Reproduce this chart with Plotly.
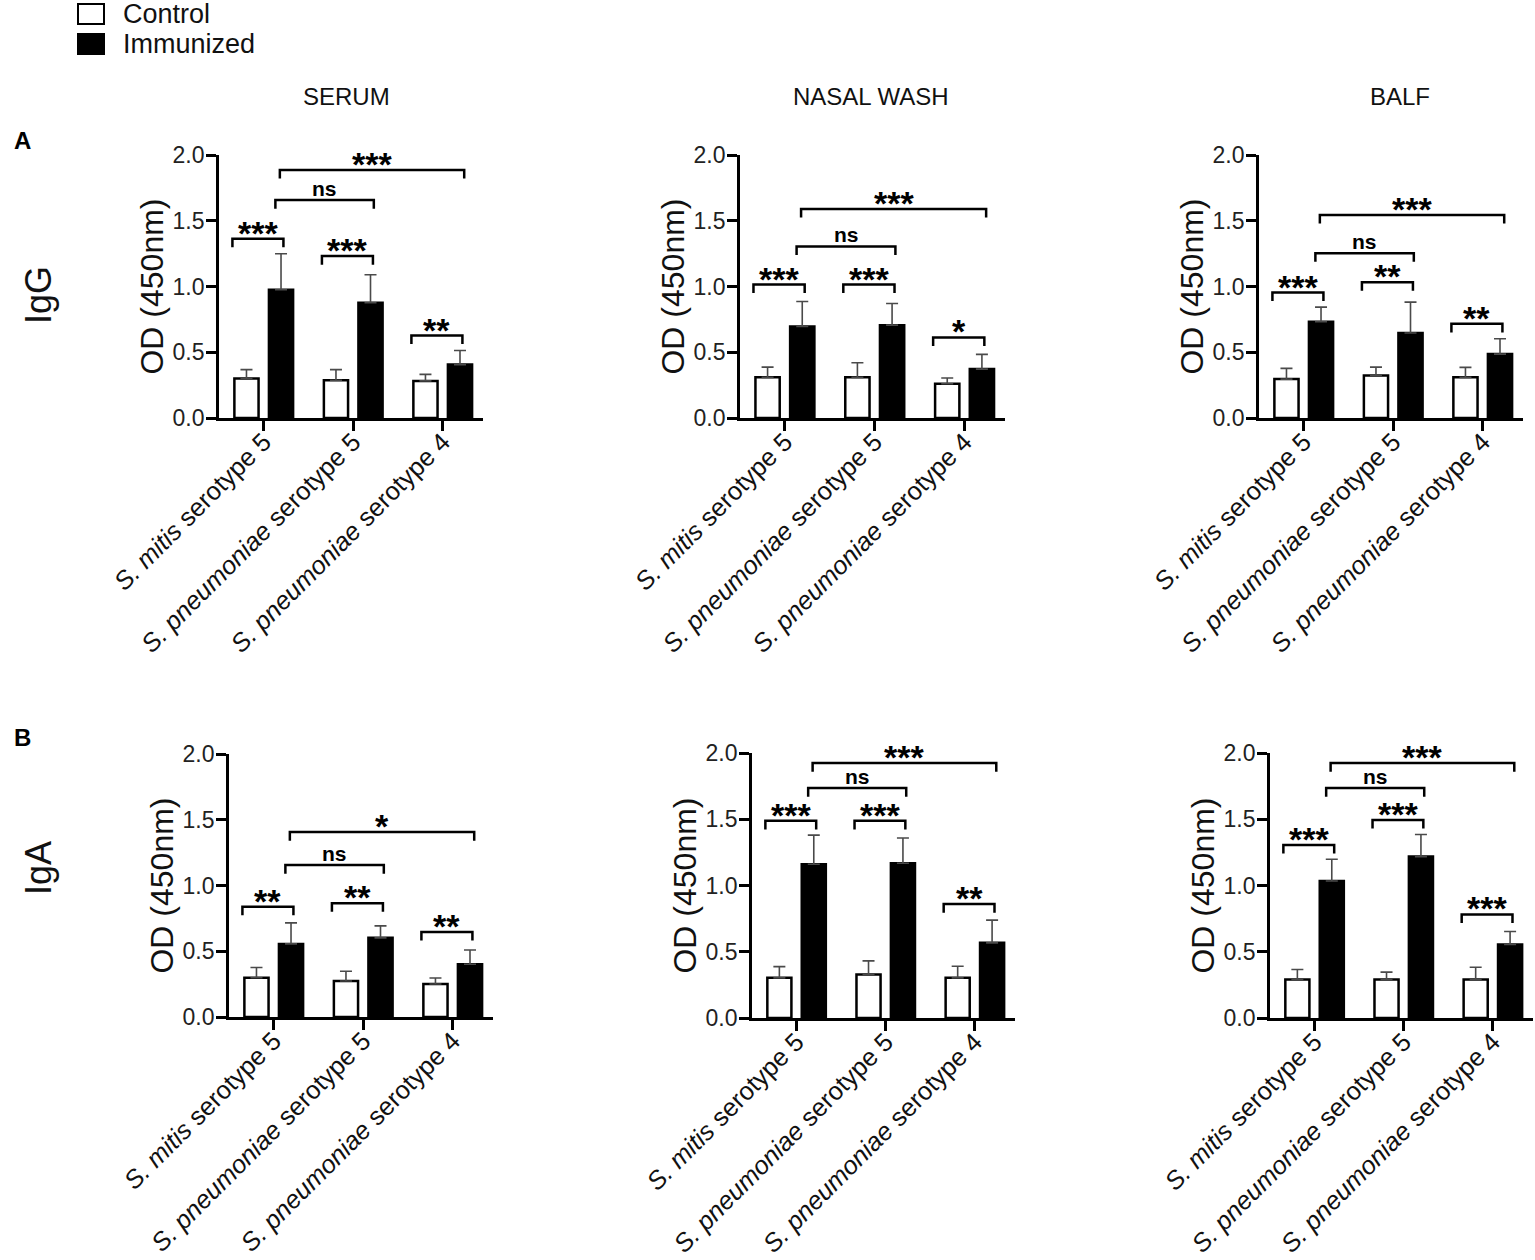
import plotly.graph_objects as go

W, H = 1535, 1260
FONT = "Liberation Sans, Arial, sans-serif"

# ---------------- data ----------------
categories = ["S. mitis serotype 5", "S. pneumoniae serotype 5", "S. pneumoniae serotype 4"]
tick_labels = ["<i>S. mitis</i> serotype 5",
               "<i>S. pneumoniae</i> serotype 5",
               "<i>S. pneumoniae</i> serotype 4"]
groups = ["Control", "Immunized"]
panel_titles = ["SERUM", "NASAL WASH", "BALF"]
row_labels = ["IgG", "IgA"]

# IgG
igg_serum_ctrl = [0.300, 0.287, 0.282]
igg_serum_ctrl_sd = [0.068, 0.081, 0.050]
igg_serum_imm = [0.975, 0.876, 0.406]
igg_serum_imm_sd = [0.274, 0.213, 0.107]

igg_nasal_ctrl = [0.309, 0.309, 0.261]
igg_nasal_ctrl_sd = [0.078, 0.111, 0.043]
igg_nasal_imm = [0.696, 0.706, 0.372]
igg_nasal_imm_sd = [0.190, 0.165, 0.112]

igg_balf_ctrl = [0.296, 0.324, 0.309]
igg_balf_ctrl_sd = [0.081, 0.063, 0.076]
igg_balf_imm = [0.732, 0.646, 0.486]
igg_balf_imm_sd = [0.111, 0.235, 0.117]

# IgA
iga_serum_ctrl = [0.299, 0.274, 0.251]
iga_serum_ctrl_sd = [0.077, 0.074, 0.046]
iga_serum_imm = [0.556, 0.602, 0.401]
iga_serum_imm_sd = [0.160, 0.091, 0.109]

iga_nasal_ctrl = [0.303, 0.328, 0.303]
iga_nasal_ctrl_sd = [0.085, 0.103, 0.088]
iga_nasal_imm = [1.160, 1.168, 0.567]
iga_nasal_imm_sd = [0.220, 0.191, 0.172]

iga_balf_ctrl = [0.290, 0.290, 0.290]
iga_balf_ctrl_sd = [0.076, 0.056, 0.093]
iga_balf_imm = [1.034, 1.218, 0.555]
iga_balf_imm_sd = [0.164, 0.167, 0.098]

# significance labels: [ctrl-vs-imm x3, imm1 vs imm2, imm1 vs imm3]
igg_serum_sig = ["***", "***", "**", "ns", "***"]
igg_nasal_sig = ["***", "***", "*", "ns", "***"]
igg_balf_sig = ["***", "**", "**", "ns", "***"]
iga_serum_sig = ["**", "**", "**", "ns", "*"]
iga_nasal_sig = ["***", "***", "**", "ns", "***"]
iga_balf_sig = ["***", "***", "***", "ns", "***"]

# bracket heights (OD units)
igg_serum_sig_y = [1.363, 1.231, 0.627, 1.657, 1.886]
igg_nasal_sig_y = [1.015, 1.015, 0.613, 1.304, 1.590]
igg_balf_sig_y = [0.954, 1.033, 0.716, 1.253, 1.544]
iga_serum_sig_y = [0.838, 0.865, 0.647, 1.155, 1.406]
iga_nasal_sig_y = [1.488, 1.488, 0.860, 1.735, 1.924]
iga_balf_sig_y = [1.306, 1.495, 0.782, 1.735, 1.924]

panels = [
    (igg_serum_ctrl, igg_serum_ctrl_sd, igg_serum_imm, igg_serum_imm_sd, igg_serum_sig, igg_serum_sig_y),
    (igg_nasal_ctrl, igg_nasal_ctrl_sd, igg_nasal_imm, igg_nasal_imm_sd, igg_nasal_sig, igg_nasal_sig_y),
    (igg_balf_ctrl, igg_balf_ctrl_sd, igg_balf_imm, igg_balf_imm_sd, igg_balf_sig, igg_balf_sig_y),
    (iga_serum_ctrl, iga_serum_ctrl_sd, iga_serum_imm, iga_serum_imm_sd, iga_serum_sig, iga_serum_sig_y),
    (iga_nasal_ctrl, iga_nasal_ctrl_sd, iga_nasal_imm, iga_nasal_imm_sd, iga_nasal_sig, iga_nasal_sig_y),
    (iga_balf_ctrl, iga_balf_ctrl_sd, iga_balf_imm, iga_balf_imm_sd, iga_balf_sig, iga_balf_sig_y),
]

# ---------------- layout geometry (pixels) ----------------
panel_px = [
    (219, 483, 155, 418),
    (740, 1005, 155, 418),
    (1259, 1523, 155, 418),
    (229, 493, 754, 1017),
    (752, 1015, 753, 1018),
    (1270, 1533, 753, 1018),
]

LW = 2.7
fig = go.Figure()
shapes = []
annotations = []

# bracket x-offsets relative to category index
bracket_spans = [(0, -0.35, 0, 0.22), (1, -0.35, 1, 0.22), (2, -0.35, 2, 0.22),
                 (0, 0.13, 1, 0.23), (0, 0.18, 2, 0.24)]
LEG = 0.065

for k, (ctrl, ctrl_sd, imm, imm_sd, sig, sig_y) in enumerate(panels):
    n = k + 1
    xa = "x" if n == 1 else f"x{n}"
    ya = "y" if n == 1 else f"y{n}"
    for name, vals, sds, fill in [(groups[0], ctrl, ctrl_sd, "white"),
                                  (groups[1], imm, imm_sd, "black")]:
        fig.add_trace(go.Bar(
            x=categories, y=vals, name=name, xaxis=xa, yaxis=ya,
            marker=dict(color=fill, line=dict(color="black", width=2.5)),
            error_y=dict(type="data", array=sds, arrayminus=[0] * len(sds),
                         symmetric=False, color="#4a4a4a", thickness=1.6, width=6),
            showlegend=False, offsetgroup=name,
        ))
    x0p, x1p, y0p, y1p = panel_px[k]
    xd = [x0p / W, x1p / W]
    yd = [1 - y1p / H, 1 - y0p / H]
    xkey = "xaxis" if n == 1 else f"xaxis{n}"
    ykey = "yaxis" if n == 1 else f"yaxis{n}"
    fig.update_layout(**{
        xkey: dict(domain=xd, anchor=ya, type="category", range=[-0.5, 2.45],
                   tickvals=categories, ticktext=tick_labels, tickangle=-45,
                   showline=True, linecolor="black", linewidth=LW,
                   ticks="outside", ticklen=10, tickwidth=LW, tickcolor="black",
                   showgrid=False, zeroline=False, automargin=False,
                   ticklabelstandoff=-14,
                   tickfont=dict(family=FONT, size=25.5, color="#111")),
        ykey: dict(domain=yd, anchor=xa, range=[0, 2.0],
                   tickvals=[0, 0.5, 1.0, 1.5, 2.0], tickformat=".1f",
                   showline=True, linecolor="black", linewidth=LW,
                   ticks="outside", ticklen=10, tickwidth=LW, tickcolor="black",
                   showgrid=False, zeroline=False, automargin=False,
                   ticklabelstandoff=-3,
                   tickfont=dict(family=FONT, size=23, color="#222"),
                   title=dict(text="OD (450nm)", standoff=0,
                              font=dict(family=FONT, size=32, color="#111"))),
    })
    # significance brackets
    for (ia, da, ib, db), lab, yb in zip(bracket_spans, sig, sig_y):
        xa0 = ia + da
        xb0 = ib + db
        shapes.append(dict(type="path", xref=xa, yref=ya,
                           path=f"M {xa0},{yb - LEG} L {xa0},{yb} L {xb0},{yb} L {xb0},{yb - LEG}",
                           line=dict(color="black", width=2.5)))
        is_ns = lab == "ns"
        annotations.append(dict(x=(xa0 + xb0) / 2, y=yb, xref=xa, yref=ya,
                                text=f"<b>{lab}</b>", showarrow=False,
                                yanchor="middle", yshift=12 if is_ns else 6,
                                font=dict(family=FONT, size=21 if is_ns else 34, color="black")))

# panel titles
for cx, t in zip([346, 871, 1400], panel_titles):
    annotations.append(dict(x=cx / W, y=1 - 97 / H, xref="paper", yref="paper",
                            text=t, showarrow=False, xanchor="center", yanchor="middle",
                            font=dict(family=FONT, size=24, color="#111")))
# row labels
for cy, t in zip([295, 868], row_labels):
    annotations.append(dict(x=38 / W, y=1 - cy / H, xref="paper", yref="paper",
                            text=t, showarrow=False, textangle=-90,
                            xanchor="center", yanchor="middle",
                            font=dict(family=FONT, size=36, color="#111")))
# panel letters
for cy, t in zip([140, 737], ["A", "B"]):
    annotations.append(dict(x=22 / W, y=1 - cy / H, xref="paper", yref="paper",
                            text=f"<b>{t}</b>", showarrow=False,
                            xanchor="center", yanchor="middle",
                            font=dict(family=FONT, size=24, color="black")))
# legend
for (ty, by), fill, name, cy in [((4, 24), "white", groups[0], 14), ((34, 54), "black", groups[1], 44)]:
    shapes.append(dict(type="rect", xref="paper", yref="paper",
                       x0=78 / W, x1=104 / W, y0=1 - by / H, y1=1 - ty / H,
                       fillcolor=fill, line=dict(color="black", width=2)))
    annotations.append(dict(x=121 / W, y=1 - cy / H, xref="paper", yref="paper",
                            text=name, showarrow=False, xanchor="left", yanchor="middle",
                            font=dict(family=FONT, size=27, color="#111")))

fig.update_layout(
    width=W, height=H,
    margin=dict(l=0, r=0, t=0, b=0, autoexpand=False),
    paper_bgcolor="white", plot_bgcolor="white",
    barmode="group", bargap=0.228, bargroupgap=0.30,
    shapes=shapes, annotations=annotations,
    showlegend=False,
    font=dict(family=FONT),
)

fig.write_html("out.html",
               config={"displayModeBar": False},
               post_script="document.body.style.margin='0px';document.body.style.overflow='hidden';")
